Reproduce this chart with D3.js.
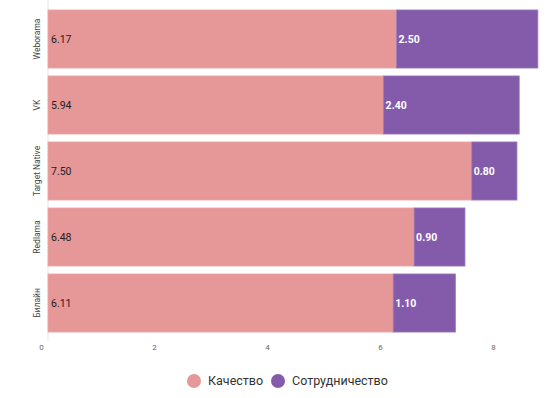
<!DOCTYPE html>
<html>
<head>
<meta charset="utf-8">
<script src="https://cdn.jsdelivr.net/npm/d3@7"></script>
<style>
  body { margin: 0; background: #fff; font-family: Roboto, "Noto Sans", sans-serif; }
</style>
</head>
<body>
<div id="chart"></div>
<script>
// data
var companies = ["Weborama", "VK", "Target Native", "Redlama", "Билайн"];
var quality = [6.17, 5.94, 7.50, 6.48, 6.11];
var cooperation = [2.50, 2.40, 0.80, 0.90, 1.10];
var seriesNames = ["Качество", "Сотрудничество"];
var seriesColors = ["#e69797", "#845bab"];
var xTicks = [0, 2, 4, 6, 8];

var width = 550, height = 398;

var svg = d3.select("#chart").append("svg")
  .attr("width", width)
  .attr("height", height);

var x = d3.scaleLinear()
  .domain([0, 9])
  .range([48, 48 + 9 * 56.5]);

var y = d3.scaleBand()
  .domain(companies)
  .range([6, 336])
  .paddingInner(0.12)
  .paddingOuter(0.06);

// axis line
svg.append("line")
  .attr("x1", x(0)).attr("x2", x(0))
  .attr("y1", 0).attr("y2", 341)
  .attr("stroke", "#e6e6e6")
  .attr("stroke-width", 1);

// x tick labels
var xAxis = svg.append("g")
  .attr("transform", "translate(-7,341)")
  .call(d3.axisBottom(x).tickValues(xTicks).tickSize(0).tickPadding(3));
xAxis.select(".domain").remove();
xAxis.selectAll("text")
  .attr("fill", "#666")
  .style("font-size", "8px")
  .style("font-family", "Roboto, sans-serif");

// y labels
var yAxis = svg.append("g")
  .attr("transform", "translate(" + (x(0) - 8) + ",0)")
  .call(d3.axisLeft(y).tickSize(0).tickPadding(0));
yAxis.select(".domain").remove();
yAxis.selectAll("text")
  .attr("fill", "#444")
  .attr("transform", "rotate(-90)")
  .attr("text-anchor", "middle")
  .attr("x", 0)
  .attr("dy", "0em")
  .style("font-size", "8.5px")
  .style("font-family", "Roboto, sans-serif");

// bars
var rows = companies.map(function(c, i) {
  return { name: c, q: quality[i], c: cooperation[i] };
});

var g = svg.append("g");

g.selectAll(".bq")
  .data(rows)
  .enter().append("rect")
    .attr("class", "bq")
    .attr("x", x(0))
    .attr("y", function(d) { return y(d.name); })
    .attr("width", function(d) { return x(d.q) - x(0); })
    .attr("height", y.bandwidth())
    .attr("fill", seriesColors[0])
    .attr("stroke", "#eaa9a9")
    .attr("stroke-width", 0.8);

g.selectAll(".bc")
  .data(rows)
  .enter().append("rect")
    .attr("class", "bc")
    .attr("x", function(d) { return x(d.q); })
    .attr("y", function(d) { return y(d.name); })
    .attr("width", function(d) { return x(d.q + d.c) - x(d.q); })
    .attr("height", y.bandwidth())
    .attr("fill", seriesColors[1])
    .attr("stroke", "#9a78bb")
    .attr("stroke-width", 0.8);

g.selectAll(".lq")
  .data(rows)
  .enter().append("text")
    .attr("x", x(0) + 3)
    .attr("y", function(d) { return y(d.name) + y.bandwidth() / 2; })
    .attr("dy", "0.35em")
    .attr("fill", "#222")
    .style("font-size", "10.5px")
    .text(function(d) { return d.q.toFixed(2); });

g.selectAll(".lc")
  .data(rows)
  .enter().append("text")
    .attr("x", function(d) { return x(d.q) + 2; })
    .attr("y", function(d) { return y(d.name) + y.bandwidth() / 2; })
    .attr("dy", "0.35em")
    .attr("fill", "#fff")
    .style("font-size", "10.5px")
    .style("font-weight", "bold")
    .text(function(d) { return d.c.toFixed(2); });

// legend
var legend = svg.append("g").attr("transform", "translate(0,381)");
var legendX = [194, 278];
seriesNames.forEach(function(name, i) {
  legend.append("circle")
    .attr("cx", legendX[i])
    .attr("cy", 0)
    .attr("r", 7)
    .attr("fill", seriesColors[i]);
  legend.append("text")
    .attr("x", legendX[i] + 14)
    .attr("y", 0)
    .attr("dy", "0.35em")
    .attr("fill", "#333")
    .style("font-size", "12.5px")
    .text(name);
});
</script>
</body>
</html>
